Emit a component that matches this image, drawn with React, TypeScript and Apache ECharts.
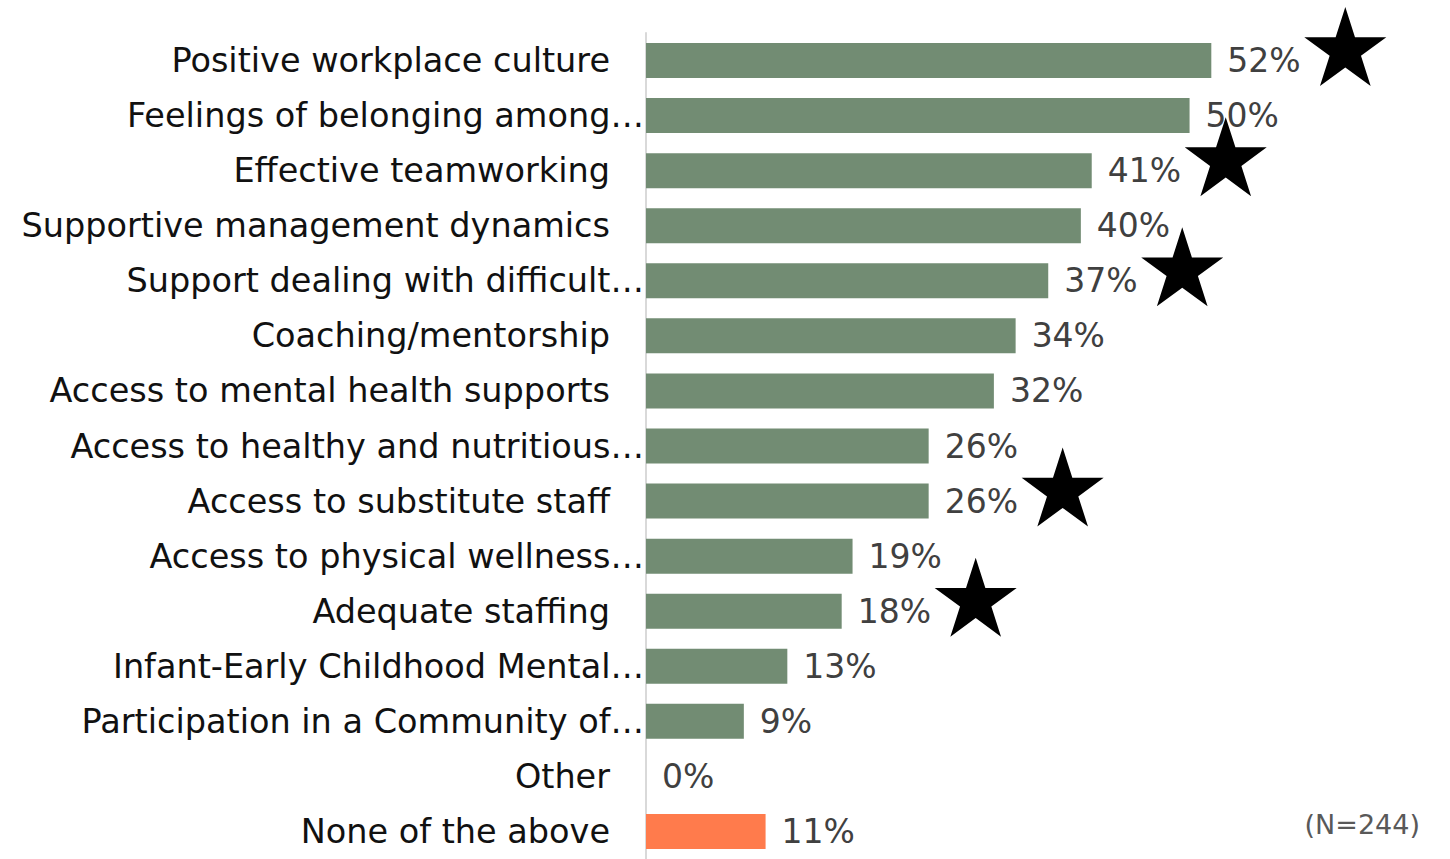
import React, { useEffect, useRef } from "react";
import * as echarts from "echarts";

const categories = [
  "Positive workplace culture",
  "Feelings of belonging among…",
  "Effective teamworking",
  "Supportive management dynamics",
  "Support dealing with difficult…",
  "Coaching/mentorship",
  "Access to mental health supports",
  "Access to healthy and nutritious…",
  "Access to substitute staff",
  "Access to physical wellness…",
  "Adequate staffing",
  "Infant-Early Childhood Mental…",
  "Participation in a Community of…",
  "Other",
  "None of the above",
];
const values = [52, 50, 41, 40, 37, 34, 32, 26, 26, 19, 18, 13, 9, 0, 11];
const starred = [
  "Positive workplace culture",
  "Effective teamworking",
  "Support dealing with difficult…",
  "Access to substitute staff",
  "Adequate staffing",
];
const highlighted = ["None of the above"];
const sampleNote = "(N=244)";

const GREEN = "#728c73";
const ORANGE = "#ff7b4c";
const FONT = "'DejaVu Sans', sans-serif";
const LABEL_SIZE = 33.5;

function starPath(): string {
  let d = "";
  for (let i = 0; i < 10; i++) {
    const r = i % 2 ? 0.382 : 1;
    const a = ((-90 + i * 36) * Math.PI) / 180;
    d += (i ? "L" : "M") + (r * Math.cos(a)).toFixed(4) + " " + (r * Math.sin(a)).toFixed(4);
  }
  return d + "Z";
}

export default function App() {
  const ref = useRef<HTMLDivElement>(null);
  useEffect(() => {
    if (!ref.current) return;
    const chart = echarts.init(ref.current, undefined, { renderer: "svg" });
    const valueMap: Record<string, number> = {};
    categories.forEach((c, i) => (valueMap[c] = values[i]));
    chart.setOption({
      animation: false,
      grid: { left: 646, top: 33, width: 761, height: 832, containLabel: false },
      xAxis: {
        type: "value",
        min: 0,
        max: 70,
        show: false,
      },
      yAxis: {
        type: "category",
        data: categories,
        inverse: true,
        axisLine: { show: true, lineStyle: { color: "#d9d9d9", width: 2 } },
        axisTick: { show: false },
        splitLine: { show: false },
        axisLabel: {
          margin: 2,
          color: "#111",
          fontSize: LABEL_SIZE,
          fontFamily: FONT,
          formatter: (v: string) => (v.endsWith("…") ? `{t|${v}}` : `{n|${v}}`),
          rich: {
            n: { fontSize: LABEL_SIZE, fontFamily: FONT, color: "#111", padding: [0, 34, 0, 0] },
            t: { fontSize: LABEL_SIZE, fontFamily: FONT, color: "#111" },
          },
        },
      },
      series: [
        {
          type: "bar",
          barWidth: 35,
          data: values.map((v, i) => ({
            value: v,
            itemStyle: { color: highlighted.includes(categories[i]) ? ORANGE : GREEN },
          })),
          label: {
            show: true,
            position: "right",
            distance: 16,
            formatter: "{c}%",
            color: "#404040",
            fontSize: 33,
            fontFamily: FONT,
          },
        },
        {
          type: "scatter",
          symbol: "path://" + starPath(),
          symbolSize: [82, 79],
          symbolOffset: [134, -14],
          itemStyle: { color: "#000", opacity: 1 },
          z: 5,
          data: starred.map((c) => [valueMap[c], c]),
        },
      ],
      graphic: [
        {
          type: "text",
          right: 30,
          top: 811,
          style: { text: sampleNote, fontSize: 27, fontFamily: FONT, fill: "#595959" },
        },
      ],
    });
    return () => chart.dispose();
  }, []);
  return (
    <div
      ref={ref}
      style={{ position: "fixed", left: 0, top: 0, width: 1450, height: 859, background: "#fff" }}
    />
  );
}
